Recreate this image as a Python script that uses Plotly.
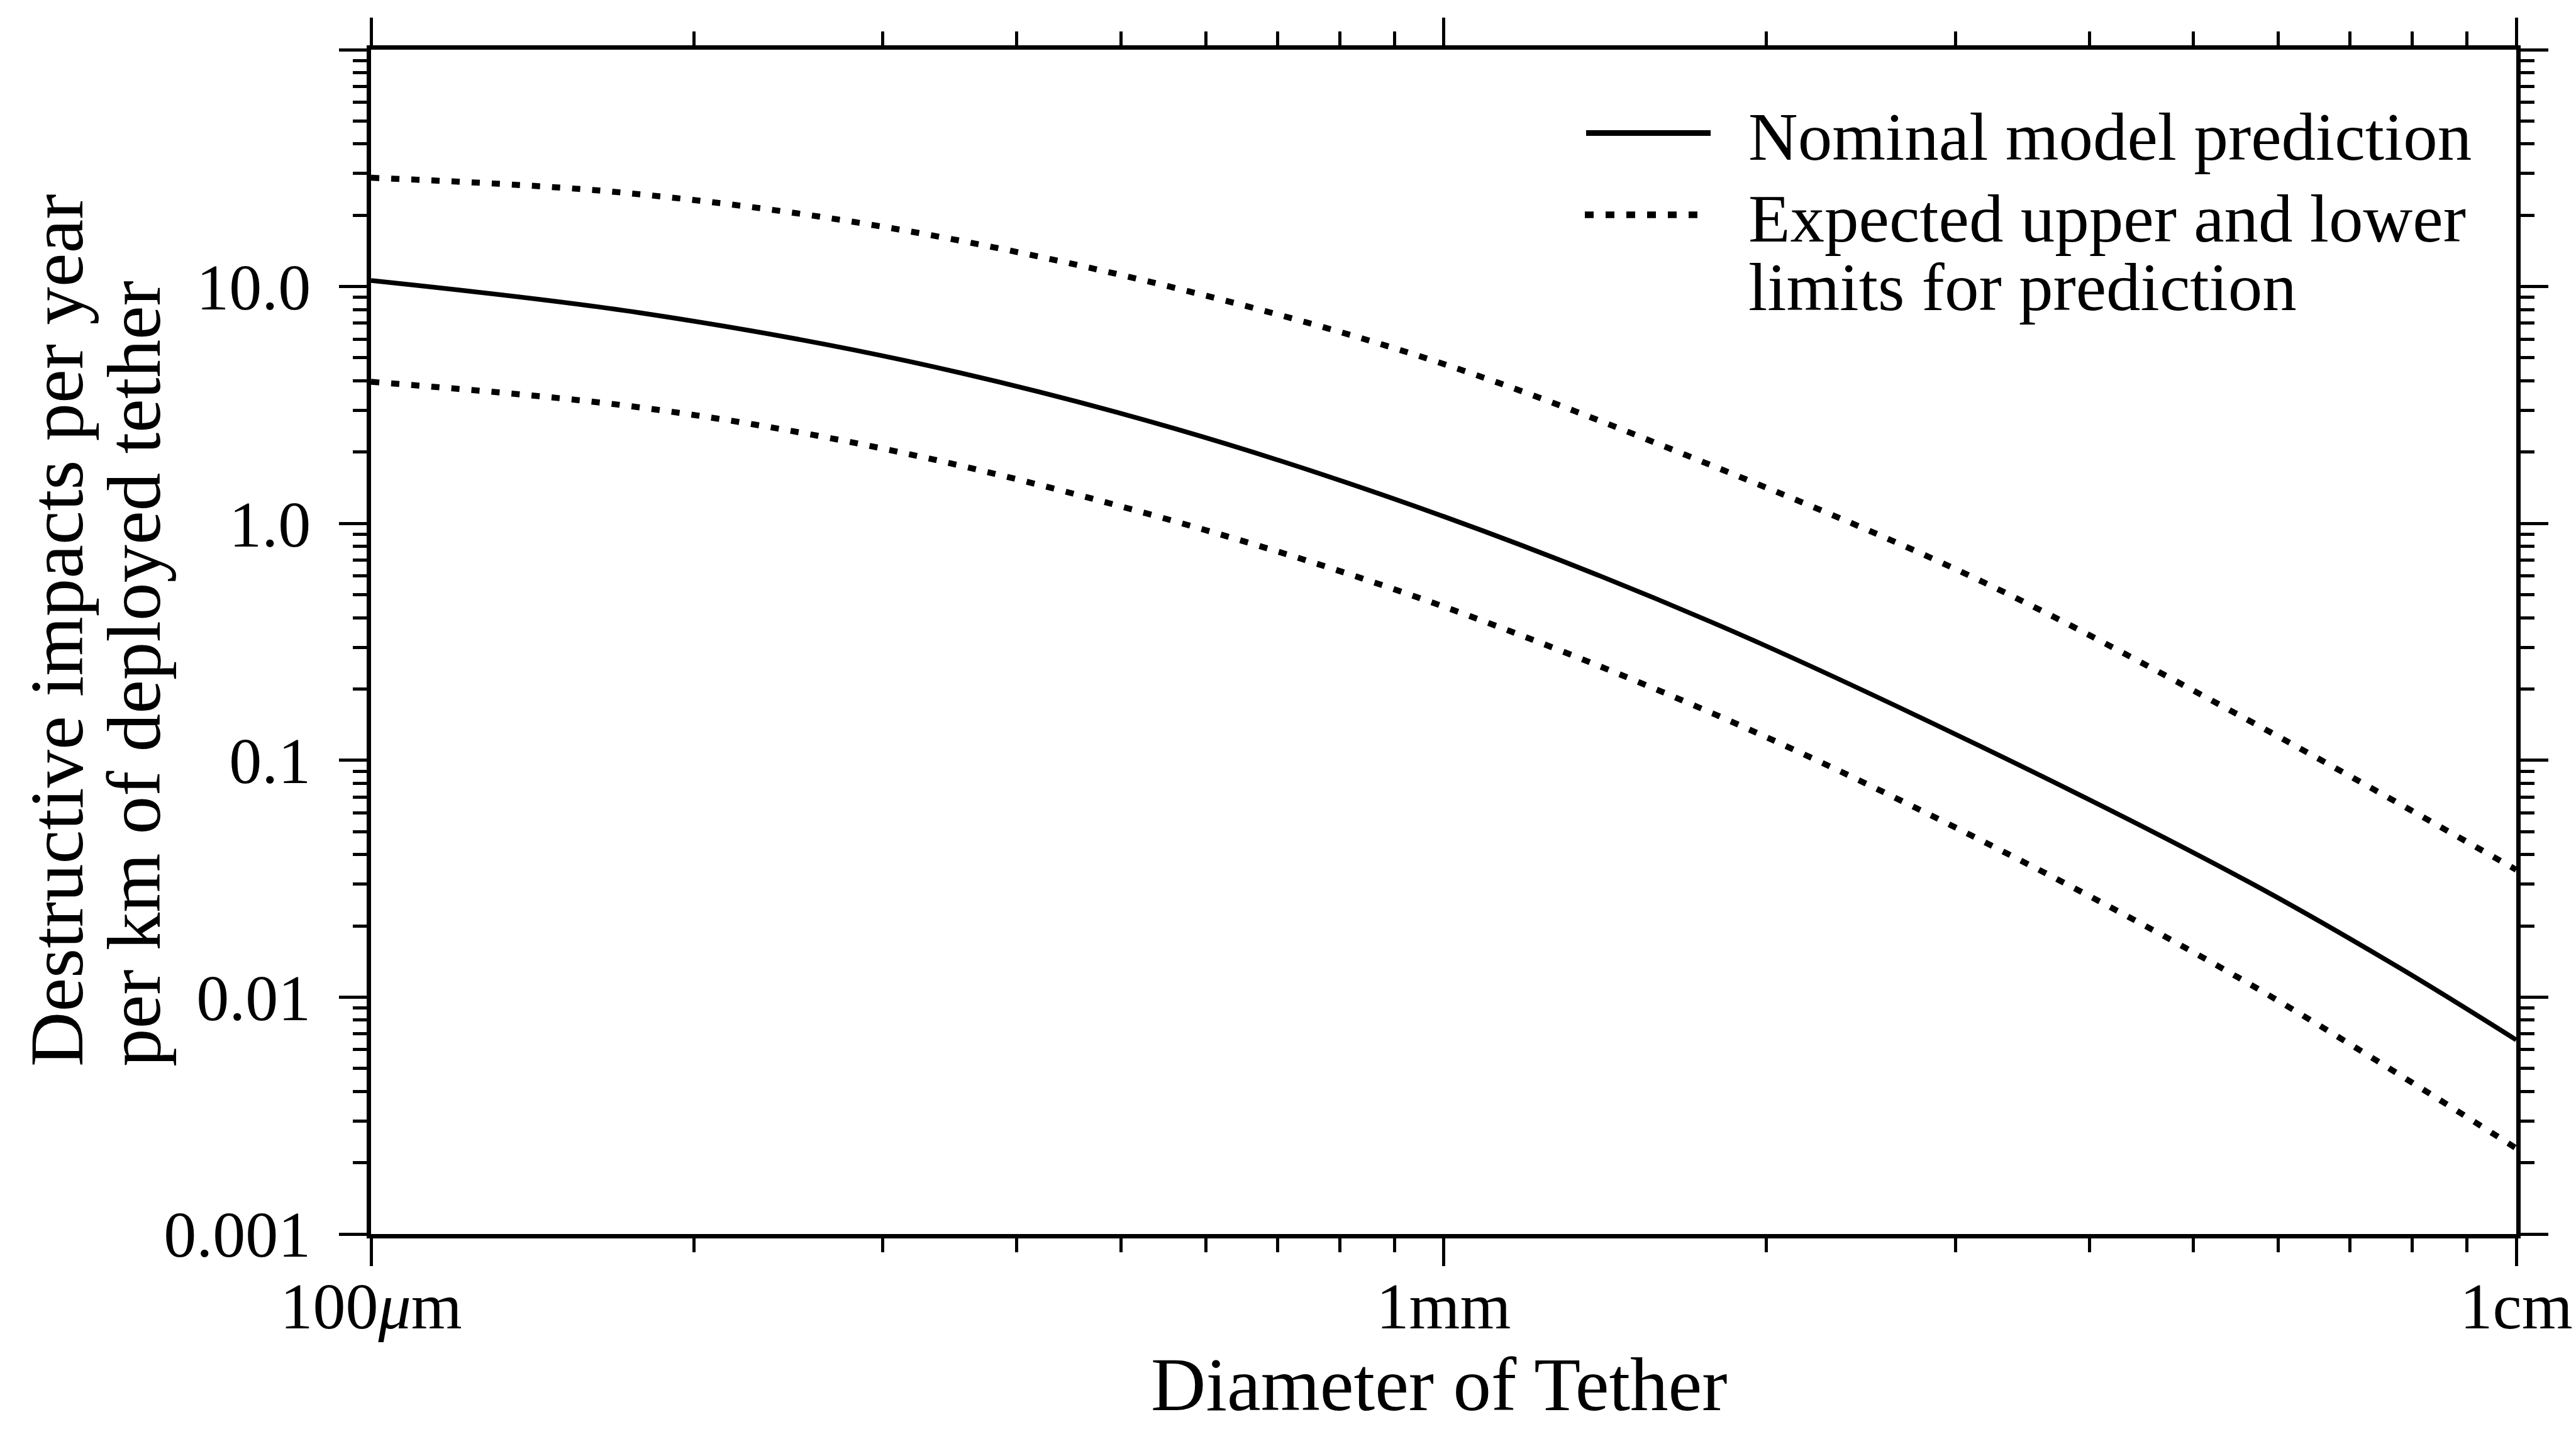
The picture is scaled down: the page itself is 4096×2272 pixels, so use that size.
import plotly.graph_objects as go

# ---------------- data ----------------
# tether diameter in mm
nominal_d = [0.1, 0.178, 0.316, 0.562, 1.0, 1.78, 3.16, 5.62, 7.76, 10.0]
nominal_v = [10.6, 7.75, 4.85, 2.51, 1.07, 0.382, 0.115, 0.0308, 0.0134, 0.0066]

upper_d = [0.1, 0.172, 0.302, 0.55, 1.0, 1.81, 3.18, 5.56, 10.0]
upper_v = [28.8, 24.9, 17.8, 10.1, 4.71, 1.70, 0.567, 0.152, 0.0345]

lower_d = [0.1, 0.179, 0.311, 0.566, 0.97, 1.78, 3.10, 5.56, 10.0]
lower_v = [3.96, 3.08, 2.0, 1.01, 0.468, 0.158, 0.0483, 0.0118, 0.0023]

x_tickvals = [0.1, 1, 10]
x_ticktext = ["100<i>μ</i>m", "1mm", "1cm"]
y_tickvals = [0.001, 0.01, 0.1, 1, 10, 100]
y_ticktext = ["0.001", "0.01", "0.1", "1.0", "10.0", ""]

legend_labels = ["Nominal model prediction",
                 "Expected upper and lower",
                 "limits for prediction"]
x_title = "Diameter of Tether"
y_title_lines = ["Destructive impacts per year", "per km of deployed tether"]

# ---------------- layout geometry (pixels) ----------------
W, H = 4096, 2272
L, R, T, B = 590, 4001, 79, 1962
PW, PH = R - L, B - T


def px2x(p):
    return (p - L) / PW


def px2y(p):
    return (B - p) / PH


FONT = "Liberation Serif"
DOT = "13px,19px"

fig = go.Figure()
fig.add_trace(go.Scatter(x=nominal_d, y=nominal_v, mode="lines",
                         line=dict(color="black", width=7.5, shape="spline"),
                         showlegend=False))
fig.add_trace(go.Scatter(x=upper_d, y=upper_v, mode="lines",
                         line=dict(color="black", width=9.5, dash=DOT, shape="spline"),
                         showlegend=False))
fig.add_trace(go.Scatter(x=lower_d, y=lower_v, mode="lines",
                         line=dict(color="black", width=9.5, dash=DOT, shape="spline"),
                         showlegend=False))

axis_common = dict(
    showline=True, linecolor="black", linewidth=7, mirror="allticks",
    ticks="outside", ticklen=44, tickwidth=5, tickcolor="black",
    showgrid=False, zeroline=False, automargin=False,
    tickfont=dict(family=FONT, size=104, color="black"),
    minor=dict(ticks="outside", ticklen=22, tickwidth=5, tickcolor="black",
               dtick="D1", showgrid=False),
)

fig.update_xaxes(type="log", range=[-1, 1], tickmode="array",
                 tickvals=x_tickvals, ticktext=x_ticktext,
                 ticklabelstandoff=-26, **axis_common)
fig.update_yaxes(type="log", range=[-3, 2], tickmode="array",
                 tickvals=y_tickvals, ticktext=y_ticktext,
                 ticklabelstandoff=24, **axis_common)

annotations = []
# x title
annotations.append(dict(text=x_title, xref="paper", yref="paper",
                        x=px2x(2288), y=px2y(2201), xanchor="center", yanchor="middle",
                        showarrow=False, font=dict(family=FONT, size=121, color="black")))
# y title: two lines, both starting at the same height
for cx, line in zip([90, 213], y_title_lines):
    annotations.append(dict(text=line, xref="paper", yref="paper",
                            x=px2x(cx), y=px2y(1698), xanchor="center", yanchor="bottom",
                            textangle=-90, showarrow=False,
                            font=dict(family=FONT, size=121, color="black")))
# legend text
for cy, line in zip([217, 347, 456], legend_labels):
    annotations.append(dict(text=line, xref="paper", yref="paper",
                            x=px2x(2778), y=px2y(cy), xanchor="left", yanchor="middle",
                            showarrow=False, font=dict(family=FONT, size=109, color="black")))

shapes = [
    dict(type="line", xref="paper", yref="paper",
         x0=px2x(2522), x1=px2x(2720), y0=px2y(211.5), y1=px2y(211.5),
         line=dict(color="black", width=9)),
    dict(type="line", xref="paper", yref="paper",
         x0=px2x(2520), x1=px2x(2700), y0=px2y(341.6), y1=px2y(341.6),
         line=dict(color="black", width=10.5, dash="14px,19px")),
]

fig.update_layout(width=W, height=H, autosize=False,
                  margin=dict(l=L, r=W - R, t=T, b=H - B, pad=0),
                  paper_bgcolor="white", plot_bgcolor="white",
                  showlegend=False, annotations=annotations, shapes=shapes,
                  font=dict(family=FONT, color="black"))

fig.write_html("out.html",
               config={"displayModeBar": False},
               post_script="document.body.style.margin='0';document.body.style.overflow='hidden';")
